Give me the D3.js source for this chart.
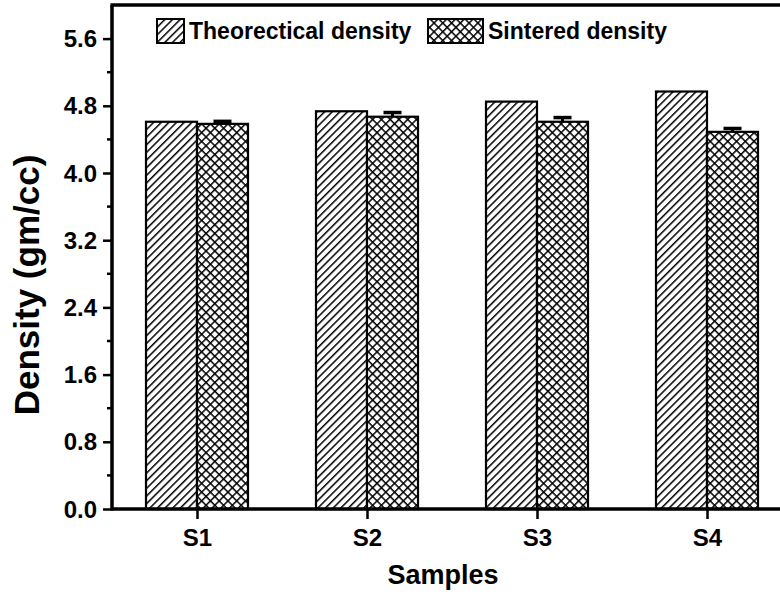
<!DOCTYPE html>
<html>
<head>
<meta charset="utf-8">
<script src="https://cdn.jsdelivr.net/npm/d3@7"></script>
<style>
  body { margin: 0; background: #fff; }
  svg text { font-family: Arial, "Liberation Sans", sans-serif; font-weight: bold; fill: #000; }
</style>
</head>
<body>
<div class="chart"></div>
<script>
// data
var samples = ["S1", "S2", "S3", "S4"];
var theoretical = [4.61, 4.735, 4.85, 4.97];
var sintered = [4.585, 4.67, 4.61, 4.49];
var sinteredErr = [0.03, 0.05, 0.05, 0.04];
var yTicks = [0.0, 0.8, 1.6, 2.4, 3.2, 4.0, 4.8, 5.6];
var seriesNames = ["Theorectical density", "Sintered density"];

var svgWidth = 780;
var svgHeight = 594;
var plotLeft = 112, plotTop = 5, plotBottom = 509;

var svg = d3.select(".chart").append("svg")
  .attr("width", svgWidth)
  .attr("height", svgHeight);

var defs = svg.append("defs");
// single hatch ////
var hatch = defs.append("pattern")
  .attr("id", "hatch")
  .attr("patternUnits", "userSpaceOnUse")
  .attr("width", 5.4).attr("height", 5.4)
  .attr("patternTransform", "rotate(45)");
hatch.append("rect").attr("width", 5.4).attr("height", 5.4).attr("fill", "#fff");
hatch.append("line").attr("x1", 0).attr("y1", 0).attr("x2", 0).attr("y2", 5.4)
  .attr("stroke", "#000").attr("stroke-width", 3);

// cross hatch
var cross = defs.append("pattern")
  .attr("id", "cross")
  .attr("patternUnits", "userSpaceOnUse")
  .attr("width", 6.2).attr("height", 6.2)
  .attr("patternTransform", "rotate(45)");
cross.append("rect").attr("width", 6.2).attr("height", 6.2).attr("fill", "#fff");
cross.append("line").attr("x1", 0).attr("y1", 0).attr("x2", 0).attr("y2", 6.2)
  .attr("stroke", "#000").attr("stroke-width", 3);
cross.append("line").attr("x1", 0).attr("y1", 0).attr("x2", 6.2).attr("y2", 0)
  .attr("stroke", "#000").attr("stroke-width", 3);

var x = d3.scaleLinear().domain([0.5, 4.5]).range([plotLeft, plotLeft + 680]);
var y = d3.scaleLinear().domain([0, 6.0]).range([plotBottom, plotTop]);
var barW = 51;

var g = svg.append("g");

// error bars (drawn first, the bar hides the lower half)
sintered.forEach(function(d, i) {
  var cx = x(i + 1) + barW / 2;
  var e = sinteredErr[i];
  g.append("line").attr("x1", cx).attr("x2", cx)
    .attr("y1", y(d - e)).attr("y2", y(d + e))
    .attr("stroke", "#000").attr("stroke-width", 3);
  [d - e, d + e].forEach(function(v) {
    g.append("line").attr("x1", cx - 9).attr("x2", cx + 9)
      .attr("y1", y(v)).attr("y2", y(v))
      .attr("stroke", "#000").attr("stroke-width", 3.5);
  });
});

// bars
g.selectAll(".theo").data(theoretical).enter().append("rect")
  .attr("class", "theo")
  .attr("x", (d, i) => x(i + 1) - barW)
  .attr("y", d => y(d))
  .attr("width", barW)
  .attr("height", d => y(0) - y(d))
  .attr("fill", "url(#hatch)")
  .attr("stroke", "#000").attr("stroke-width", 2.2);

g.selectAll(".sint").data(sintered).enter().append("rect")
  .attr("class", "sint")
  .attr("x", (d, i) => x(i + 1))
  .attr("y", d => y(d))
  .attr("width", barW)
  .attr("height", d => y(0) - y(d))
  .attr("fill", "url(#cross)")
  .attr("stroke", "#000").attr("stroke-width", 2.2);

// axes
var leftAxis = d3.axisLeft(y).tickValues(yTicks).tickFormat(d3.format(".1f"))
  .tickSize(9).tickPadding(6);
var yAxis = svg.append("g").attr("transform", `translate(${plotLeft},0)`).call(leftAxis);
yAxis.select(".domain").remove();
yAxis.selectAll(".tick line").attr("stroke", "#000").attr("stroke-width", 2.5);
yAxis.selectAll(".tick text").style("font-size", "24px").attr("dy", "0.34em");

// minor ticks
var minor = d3.range(0.4, 6.0, 0.8);
svg.append("g").selectAll("line").data(minor).enter().append("line")
  .attr("x1", plotLeft - 5).attr("x2", plotLeft)
  .attr("y1", d => y(d)).attr("y2", d => y(d))
  .attr("stroke", "#000").attr("stroke-width", 2.5);

var bottomAxis = d3.axisBottom(x).tickValues([1, 2, 3, 4])
  .tickFormat((d, i) => samples[i]).tickSize(10).tickPadding(10);
var xAxis = svg.append("g").attr("transform", `translate(0,${plotBottom})`).call(bottomAxis);
xAxis.select(".domain").remove();
xAxis.selectAll(".tick line").attr("stroke", "#000").attr("stroke-width", 2.5);
xAxis.selectAll(".tick text").style("font-size", "24px");

// frame
svg.append("line").attr("x1", plotLeft).attr("x2", 800).attr("y1", plotBottom).attr("y2", plotBottom)
  .attr("stroke", "#000").attr("stroke-width", 3.5);
svg.append("line").attr("x1", plotLeft).attr("x2", plotLeft).attr("y1", plotTop).attr("y2", plotBottom + 1.5)
  .attr("stroke", "#000").attr("stroke-width", 3.5);
svg.append("line").attr("x1", plotLeft - 1.5).attr("x2", 800).attr("y1", plotTop).attr("y2", plotTop)
  .attr("stroke", "#000").attr("stroke-width", 3.5);

// axis titles
svg.append("text")
  .attr("transform", `translate(39,${285}) rotate(-90)`)
  .attr("text-anchor", "middle")
  .style("font-size", "35px")
  .text("Density (gm/cc)");
svg.append("text")
  .attr("x", 443).attr("y", 584)
  .attr("text-anchor", "middle")
  .style("font-size", "27px")
  .text("Samples");

// legend
var legend = svg.append("g");
var lx = [157, 428];
var lw = [27, 55];
var fills = ["url(#hatch)", "url(#cross)"];
seriesNames.forEach(function(name, i) {
  legend.append("rect").attr("x", lx[i]).attr("y", 19).attr("width", lw[i]).attr("height", 24)
    .attr("fill", fills[i]).attr("stroke", "#000").attr("stroke-width", 2);
  legend.append("text").attr("x", lx[i] + lw[i] + 5).attr("y", 39)
    .style("font-size", "23px").text(name);
});
</script>
</body>
</html>
